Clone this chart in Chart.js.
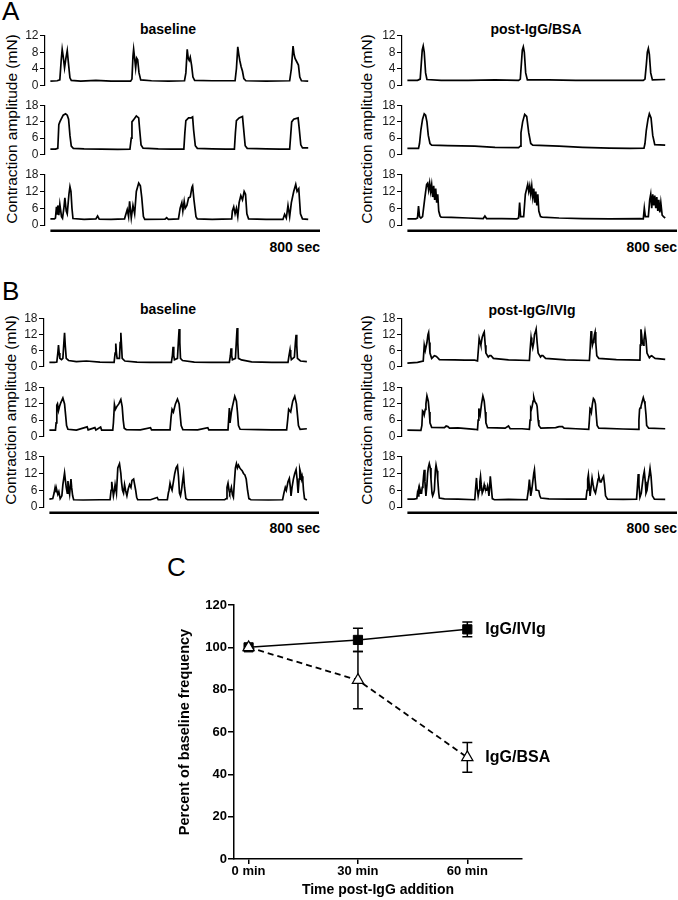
<!DOCTYPE html>
<html>
<head>
<meta charset="utf-8">
<script src="https://cdn.jsdelivr.net/npm/chart.js@4.4.0/dist/chart.umd.min.js"></script>
<style>
  html, body { margin: 0; padding: 0; background: #fff; }
  #page { position: relative; width: 678px; height: 900px; overflow: hidden;
          font-family: 'Liberation Sans', Arial, sans-serif; color: #000; }
  #page canvas, #page .txt { position: absolute; }
  .txt { line-height: 1; white-space: nowrap; }
  .letter { font-size: 26px; }
  .ttl { font-size: 14px; font-weight: bold; transform: translateX(-50%); }
  .sec { font-size: 14px; font-weight: bold; transform: translateX(-100%); }
  .ylab { font-size: 15.5px; transform: translate(-50%, -50%) rotate(-90deg); }
</style>
</head>
<body>
<div id="page">
  <div class="txt letter" style="left:2px; top:-2px;">A</div>
  <div class="txt letter" style="left:2px; top:278px;">B</div>
  <div class="txt letter" style="left:167px; top:554px;">C</div>

  <div class="txt ttl" style="left:168px; top:22px;">baseline</div>
  <div class="txt ttl" style="left:536px; top:22px;">post-IgG/BSA</div>
  <div class="txt ttl" style="left:168px; top:302px;">baseline</div>
  <div class="txt ttl" style="left:532px; top:303px;">post-IgG/IVIg</div>

  <div class="txt sec" style="left:320px; top:240px;">800 sec</div>
  <div class="txt sec" style="left:677px; top:240px;">800 sec</div>
  <div class="txt sec" style="left:320px; top:521px;">800 sec</div>
  <div class="txt sec" style="left:677px; top:521px;">800 sec</div>

  <div class="txt ylab" style="left:12px; top:129px;">Contraction amplitude (mN)</div>
  <div class="txt ylab" style="left:367px; top:129px;">Contraction amplitude (mN)</div>
  <div class="txt ylab" style="left:11px; top:410px;">Contraction amplitude (mN)</div>
  <div class="txt ylab" style="left:367px; top:410px;">Contraction amplitude (mN)</div>
</div>

<script>
// ---- trace data: [time (sec), force (mN)] ----
const aBase1 = [[0,1.0],[20,1.1],[28,1.3],[32,6],[35,8.7],[38,7],[42,4.2],[46,6.5],[50,8.4],[54,5],[58,1.8],[62,1.2],[90,1.0],[135,1.2],[180,1.0],[238,1.0],[242,1.5],[245,7],[247,8.7],[250,6.5],[253,4.2],[256,6.6],[259,6.2],[263,3],[268,1.3],[300,1.1],[350,1.0],[398,1.1],[402,3],[406,8.7],[409,6.5],[412,6],[415,6.8],[419,4.8],[423,2],[428,1.2],[480,1.1],[548,1.1],[552,4],[556,9.3],[559,7.5],[562,6],[566,4.5],[570,3.4],[574,1.6],[580,1.1],[640,1.0],[710,1.1],[715,4],[720,9.5],[723,7.5],[726,6.5],[731,5.7],[736,4.9],[740,2],[745,1.1],[765,1.0]];
const aBase2 = [[0,1.9],[15,1.9],[22,2.2],[25,11],[28,12],[32,13],[38,14.5],[45,15],[50,14.5],[54,13],[58,7],[62,3],[68,2.2],[100,2],[150,1.9],[200,1.8],[236,1.9],[240,6],[242,12],[248,13],[255,14.2],[262,13.5],[265,9],[269,3.5],[275,2.3],[320,2],[360,1.9],[396,1.9],[399,8],[402,12.5],[410,13.5],[418,13.5],[422,13.8],[425,9],[430,3.2],[436,2.2],[480,2],[520,1.9],[546,1.9],[549,8],[552,12.5],[560,13.5],[570,14],[573,10],[578,3.2],[584,2.2],[640,2],[680,1.9],[710,1.9],[713,7],[716,12],[722,13],[735,13.5],[738,10],[743,3.5],[748,2.4],[765,2.4]];
const aBase3 = [[0,2.2],[12,2.2],[15,2.5],[18,6.5],[20,4],[22,7],[25,3.5],[28,7.4],[33,3],[36,2.4],[40,6],[43,9.7],[47,5],[50,4],[55,11],[58,13.7],[61,12],[64,6],[67,2.3],[100,2],[135,2.2],[140,3.2],[145,2.1],[180,2],[220,2.2],[228,5.5],[232,3],[235,8.5],[240,2.5],[245,7],[250,4],[255,12],[262,15],[267,14],[271,10],[276,3],[280,2],[340,2.1],[345,2.6],[350,2],[380,2.2],[385,6],[390,8],[393,5],[397,8.5],[400,6],[405,7],[410,9.7],[415,10],[420,13.5],[422,14],[426,9],[432,3],[436,2.2],[480,2],[538,2.2],[540,5],[544,6.5],[548,4],[552,6],[556,3],[560,8],[565,10.5],[570,9],[575,12],[579,11],[583,4],[588,2.2],[640,2],[690,2],[695,3.8],[700,2.5],[705,7],[710,3],[715,8],[722,12],[728,14.5],[732,12],[737,13],[742,4],[748,2.2],[765,2]];

const aBsa1 = [[0,1.2],[30,1.2],[38,1.5],[41,5],[44,8.5],[47,9.5],[50,8],[54,3],[58,1.4],[100,1.2],[180,1.2],[260,1.3],[330,1.2],[335,1.5],[338,5],[341,8.5],[344,9.3],[347,8],[351,3],[356,1.3],[420,1.3],[500,1.2],[600,1.2],[700,1.2],[705,1.5],[709,5],[712,8],[715,8.9],[718,7.5],[722,3],[727,1.3],[765,1.4]];
const aBsa2 = [[0,2.2],[33,2.2],[36,4],[40,9],[45,13],[50,15],[54,14.5],[58,12],[62,7],[67,4],[72,3.4],[120,3.2],[200,3],[260,2.6],[330,2.5],[335,3],[337,8],[342,12],[348,14.8],[354,14],[360,8],[366,4],[372,3.4],[450,3],[520,2.6],[600,2.3],[660,2.2],[702,2.3],[705,4],[709,9],[714,13],[718,15],[723,13.5],[728,7],[734,3.6],[765,3.4]];
const aBsa3 = [[0,2.2],[25,2.2],[30,2.5],[33,6.8],[36,3],[40,2.5],[45,3],[52,10],[57,14.5],[60,15],[63,12.5],[66,15],[69,12],[72,14.5],[75,10],[78,14],[81,9],[84,13],[87,8],[90,11],[93,5],[97,3.2],[100,2.8],[130,2.7],[180,2.5],[225,2.3],[230,3.2],[235,2.3],[280,2.3],[325,2.2],[330,2.5],[333,8],[336,3],[345,3],[350,11],[354,13],[357,14.5],[360,12],[363,14],[366,11],[369,14],[372,10],[375,13],[378,8],[381,12],[384,7],[387,11],[390,5],[395,3],[400,2.8],[450,2.5],[520,2.3],[600,2.2],[690,2.3],[700,2.2],[703,6],[706,3],[715,3],[719,9],[722,11],[725,6],[728,11],[731,7],[734,10.5],[737,6],[740,10],[743,5],[746,9],[749,4.5],[752,8],[756,3.5],[760,3],[765,2.5]];

const bBase1 = [[0,1.5],[15,1.5],[22,1.6],[25,5],[27,8],[29,5],[31,3],[36,2.5],[40,3],[43,9],[45,12.7],[47,8],[50,3],[57,2.2],[80,1.8],[110,2],[150,1.6],[192,1.5],[195,5],[197,8.6],[199,5],[201,3],[208,3],[210,9],[212,12.7],[214,8],[216,3],[224,2],[260,1.6],[300,1.5],[362,1.5],[365,4],[367,7.4],[369,4],[371,2.5],[380,3],[383,10],[385,14.1],[387,9],[389,3],[395,2.2],[430,1.6],[480,1.5],[534,1.5],[537,4],[539,6.8],[541,4],[543,2.5],[552,3],[555,10],[557,14.5],[559,9],[561,3],[570,2.4],[600,1.7],[660,1.5],[708,1.5],[711,4],[714,6.2],[716,4],[718,2.5],[727,3.5],[730,9],[732,11.9],[734,8],[736,3],[745,2],[764,1.8]];
const bBase2 = [[0,2.3],[18,2.3],[20,5],[22,11.5],[24,12],[27,9.5],[30,11],[34,12.5],[40,14.2],[45,12],[48,8],[51,4],[55,2.6],[80,2.3],[112,3.5],[115,2.4],[135,3.2],[138,2.3],[152,3.4],[155,2.3],[188,2.3],[190,5],[193,11.8],[196,10],[200,11],[206,12],[212,13.6],[216,11],[219,6],[222,3],[228,2.5],[270,2.4],[300,3.2],[303,2.4],[358,2.4],[361,7],[364,10],[368,9],[374,12],[380,13.8],[385,12],[388,8],[391,4],[396,2.5],[440,2.4],[470,3.2],[473,2.4],[530,2.4],[534,10.5],[536,5],[540,9],[543,11],[550,14.8],[555,13],[558,9],[561,4],[566,2.6],[620,2.5],[660,2.4],[704,2.4],[707,6],[710,10],[716,9],[722,13],[728,14.8],[733,12],[736,8],[739,4],[744,2.6],[764,2.8]];
const bBase3 = [[0,2.8],[10,3],[14,5],[17,7],[20,5.5],[22,6],[25,4.5],[28,5.5],[32,3],[37,4],[40,8],[45,12.2],[48,9],[50,7],[53,5],[55,9.3],[58,6],[60,4.5],[64,10],[66,7],[69,4],[72,2.6],[100,2.5],[150,2.6],[180,2.6],[183,6],[185,9],[188,6],[190,4],[193,6],[195,8],[199,5],[203,14],[208,15.5],[212,12],[214,9],[217,6],[220,5],[223,8],[226,6],[230,4],[234,6.5],[238,8],[242,7],[245,9.5],[250,10],[253,8],[256,6],[259,3.5],[262,2.6],[300,2.6],[320,3.4],[323,2.6],[350,2.6],[353,5],[355,6],[358,8.5],[361,7],[364,6],[368,9],[372,12],[376,14],[380,14.8],[383,11],[386,5],[389,4],[392,6],[395,9],[398,11.8],[401,7],[405,3],[410,2.6],[460,2.6],[520,2.6],[525,3],[527,7],[530,8.5],[533,6],[535,5],[538,6],[540,7],[543,4.5],[546,3.5],[549,9],[552,14],[555,15.5],[558,14],[561,15],[565,14],[568,13.5],[572,13],[576,12],[580,11.5],[584,10],[588,6],[592,3],[598,2.6],[650,2.5],[692,2.6],[696,5],[700,7],[703,6],[705,6],[708,9],[712,10.2],[715,7],[717,4],[720,7],[724,10],[728,12],[732,13.4],[735,10],[738,5],[741,10],[743,13.5],[746,12],[748,10],[750,11],[752,9.5],[754,6],[757,3],[764,2.5]];

const bIvig1 = [[0,1.2],[30,1.5],[47,2],[50,8],[53,6],[55,6],[58,9],[61,12],[63,12.8],[65,9],[67,5],[72,3],[76,3.5],[80,4],[85,3.8],[88,3.5],[95,2.5],[140,2.4],[170,2.3],[200,2.3],[208,2],[211,7],[213,10.5],[216,9],[218,8],[222,11],[226,12.5],[228,13],[231,8],[233,5],[240,3.5],[244,4],[248,4],[252,3.5],[255,3],[300,2.4],[362,2.2],[364,6],[367,10.9],[369,9],[372,7],[375,9],[377,12],[380,13],[382,14],[385,9],[388,5],[395,3.5],[398,4],[402,4],[410,3],[470,2.4],[540,2.2],[542,6],[545,13.3],[547,11],[549,8],[551,9],[553,10],[555,12],[557,13],[559,9],[562,4],[568,3],[620,2.5],[690,2.3],[691,8],[693,14],[695,12],[697,9],[700,8],[702,10],[705,13],[708,10],[711,5],[718,3.2],[722,3.8],[725,4],[730,3.5],[735,3],[765,2.6]];
const bIvig2 = [[0,2.3],[40,2.2],[43,4],[45,9.4],[48,9],[50,8],[53,10],[55,12],[58,15],[60,14],[62,13],[65,9],[67,5],[72,3.3],[110,3.2],[115,3.8],[120,3.6],[125,3],[150,3.1],[200,2.6],[208,2.4],[210,6],[212,10.3],[214,9],[216,8],[220,12],[224,14.9],[228,13],[231,9],[233,5],[238,3.2],[290,3],[300,3.8],[305,2.8],[340,2.8],[362,2.6],[364,6],[366,10.5],[368,10],[370,11],[373,13],[375,14.5],[378,13],[380,12.5],[383,12],[385,11],[388,6],[390,4],[396,3],[440,3.2],[450,3.6],[460,3.6],[465,3],[500,2.8],[538,2.6],[540,6],[542,10.3],[544,10],[546,9],[549,12],[552,14],[555,13.5],[558,12],[561,7],[563,4],[568,3],[640,2.7],[685,2.6],[687,6],[689,10],[691,10.5],[693,11],[697,13],[700,14.3],[703,13],[705,12],[708,8],[710,4],[716,3],[765,2.8]];
const bIvig3 = [[0,2.8],[20,2.8],[28,3],[30,5],[32,4],[34,6],[36,5],[37,6.5],[40,5],[42,5],[44,7],[46,8],[48,11],[50,13.3],[52,9],[55,4],[58,8],[60,12],[62,14],[65,15.5],[68,14],[70,10],[73,5],[75,4],[78,5],[80,6],[83,13],[85,15],[88,13],[90,10],[93,5],[95,3.2],[110,2.9],[150,2.8],[200,2.6],[202,6],[205,10.4],[207,7],[210,4],[213,6],[215,9],[217,10.9],[219,8],[222,5],[225,6],[228,8],[230,7],[232,6],[235,6],[238,7.5],[240,6],[242,4],[244,7],[246,11],[249,7],[252,3],[258,2.6],[300,2.7],[355,2.6],[359,6],[362,9.8],[364,7],[366,4],[369,6],[372,9],[375,12],[377,13.3],[379,10],[382,6],[386,6],[390,5.8],[393,4],[396,3.2],[420,2.9],[480,2.8],[530,2.8],[533,6],[535,10],[537,11.5],[540,7],[542,4],[545,7],[548,10.3],[551,8],[554,6],[558,5],[563,8],[566,10],[568,11],[572,9],[575,9],[578,10],[582,11],[585,8],[588,4],[594,2.8],[640,2.7],[680,2.8],[683,8],[685,11.8],[687,8],[690,3.5],[694,5],[697,8],[700,11],[703,12.8],[706,9],[708,5],[711,6],[714,9],[717,11],[720,13.8],[723,11],[727,4],[733,2.8],[765,2.7]];

// y tick sets of the trace panels
const ticks12 = [0, 4, 8, 12];
const ticks18 = [0, 6, 12, 18];

// scale bar: 800 sec, drawn just under the bottom trace of each block
const scaleBarSec = [0, 800];
const scaleBarY = -2.1;

// ---- panel C: frequency as % of baseline ----
const cTimes = [0, 30, 60];
const ivigMean = [100, 103.5, 108.5];
const ivigSem = [0, 5.5, 3.5];
const bsaMean = [100, 84.5, 48];
const bsaSem = [0, 13.5, 7];
const cYTicks = [0, 20, 40, 60, 80, 100, 120];

Chart.defaults.font.family = "'Liberation Sans', Arial, sans-serif";
Chart.defaults.color = '#000';

const page = document.getElementById('page');

function addCanvas(left, top, w, h) {
    const c = document.createElement('canvas');
    c.width = w;
    c.height = h;
    c.style.left = left + 'px';
    c.style.top = top + 'px';
    page.appendChild(c);
    return c;
}

const toXY = arr => arr.map(p => ({ x: p[0], y: p[1] }));

function traceChart(pts, axisX, top, bottom, yTicks, withBar) {
    const axisW = 40, plotW = 275;
    const padTop = 7, padBot = withBar ? 12 : 7;
    const canvas = addCanvas(axisX - axisW, top - padTop, axisW + plotW, bottom - top + padTop + padBot);

    const datasets = [{
        data: toXY(pts),
        borderColor: '#000',
        borderWidth: 1.7,
        pointRadius: 0,
        tension: 0
    }];
    if (withBar) {
        datasets.push({
            data: scaleBarSec.map(t => ({ x: t, y: scaleBarY })),
            borderColor: '#000',
            borderWidth: 2.5,
            pointRadius: 0,
            clip: false
        });
    }

    return new Chart(canvas, {
        type: 'line',
        data: { datasets },
        options: {
            responsive: false,
            animation: false,
            devicePixelRatio: 1,
            layout: { padding: { top: padTop, bottom: padBot, left: 0, right: 0 } },
            plugins: { legend: { display: false }, tooltip: { enabled: false } },
            scales: {
                x: { type: 'linear', min: -16, max: 800, display: false },
                y: {
                    min: 0,
                    max: yTicks[yTicks.length - 1],
                    afterBuildTicks: axis => { axis.ticks = yTicks.map(v => ({ value: v })); },
                    ticks: { autoSkip: false, color: '#1a1a1a', font: { size: 12 }, padding: 1.5 },
                    grid: { drawOnChartArea: false, tickLength: 5, color: '#000', lineWidth: 1 },
                    border: { color: '#000', width: 1.2 },
                    afterFit: s => { s.width = axisW; }
                }
            }
        }
    });
}

// panel A
traceChart(aBase1, 45, 34, 87, ticks12, false);
traceChart(aBase2, 45, 104, 156, ticks18, false);
traceChart(aBase3, 45, 173, 225, ticks18, true);
traceChart(aBsa1, 402, 34, 87, ticks12, false);
traceChart(aBsa2, 402, 104, 156, ticks18, false);
traceChart(aBsa3, 402, 173, 225, ticks18, true);

// panel B
traceChart(bBase1, 44, 317, 368, ticks18, false);
traceChart(bBase2, 44, 386, 438, ticks18, false);
traceChart(bBase3, 44, 455, 507, ticks18, true);
traceChart(bIvig1, 402, 317, 368, ticks18, false);
traceChart(bIvig2, 402, 386, 438, ticks18, false);
traceChart(bIvig3, 402, 455, 507, ticks18, true);

// error bars under the markers, labels at the line ends
const errorBars = {
    id: 'errorBars',
    beforeDatasetsDraw(chart) {
        const { ctx, scales: { x, y } } = chart;
        ctx.save();
        ctx.strokeStyle = '#000';
        ctx.lineWidth = 1.5;
        chart.data.datasets.forEach(ds => {
            ds.data.forEach((p, j) => {
                const e = ds.sem[j];
                if (!e) return;
                const px = x.getPixelForValue(p.x);
                const hi = y.getPixelForValue(p.y + e);
                const lo = y.getPixelForValue(p.y - e);
                ctx.beginPath();
                ctx.moveTo(px, hi); ctx.lineTo(px, lo);
                ctx.moveTo(px - 5, hi); ctx.lineTo(px + 5, hi);
                ctx.moveTo(px - 5, lo); ctx.lineTo(px + 5, lo);
                ctx.stroke();
            });
        });
        ctx.restore();
    }
};

const endLabels = {
    id: 'endLabels',
    afterDatasetsDraw(chart) {
        const { ctx, scales: { x, y } } = chart;
        ctx.save();
        ctx.font = "bold 16px 'Liberation Sans', Arial, sans-serif";
        ctx.fillStyle = '#000';
        ctx.textAlign = 'left';
        ctx.textBaseline = 'middle';
        chart.data.datasets.forEach(ds => {
            const last = ds.data[ds.data.length - 1];
            ctx.fillText(ds.label, x.getPixelForValue(last.x) + 18, y.getPixelForValue(last.y));
        });
        ctx.restore();
    }
};

const cCanvas = addCanvas(160, 595, 410, 305);
new Chart(cCanvas, {
    type: 'line',
    data: {
        datasets: [
            {
                label: 'IgG/BSA',
                data: cTimes.map((t, i) => ({ x: t, y: bsaMean[i] })),
                sem: bsaSem,
                order: 0,
                borderColor: '#000',
                borderWidth: 1.8,
                borderDash: [6, 4],
                pointStyle: 'triangle',
                pointRadius: 6.5,
                pointBackgroundColor: '#fff',
                pointBorderColor: '#000',
                pointBorderWidth: 1.2
            },
            {
                label: 'IgG/IVIg',
                data: cTimes.map((t, i) => ({ x: t, y: ivigMean[i] })),
                sem: ivigSem,
                order: 1,
                borderColor: '#000',
                borderWidth: 1.5,
                pointStyle: 'rect',
                pointRadius: 6.5,
                pointBackgroundColor: '#000',
                pointBorderColor: '#000',
                pointBorderWidth: 1
            }
        ]
    },
    options: {
        responsive: false,
        animation: false,
        devicePixelRatio: 1,
        layout: { padding: { top: 10, right: 48, left: 0, bottom: 0 } },
        plugins: { legend: { display: false }, tooltip: { enabled: false } },
        scales: {
            x: {
                type: 'linear',
                min: -4,
                max: 75,
                afterBuildTicks: axis => { axis.ticks = cTimes.map(v => ({ value: v })); },
                ticks: { callback: v => v + ' min', font: { size: 13, weight: 'bold' }, padding: 0, maxRotation: 0 },
                grid: { drawOnChartArea: false, tickLength: 5, color: '#000', lineWidth: 1.5 },
                border: { color: '#000', width: 1.5 },
                title: { display: true, text: 'Time post-IgG addition', font: { size: 14, weight: 'bold' }, padding: { top: 0, bottom: 1.6 } },
                afterFit: s => { s.height = 41; }
            },
            y: {
                min: 0,
                max: 120,
                afterBuildTicks: axis => { axis.ticks = cYTicks.map(v => ({ value: v })); },
                ticks: { font: { size: 13, weight: 'bold' }, padding: 1 },
                grid: { drawOnChartArea: false, tickLength: 6, color: '#000', lineWidth: 1.5 },
                border: { color: '#000', width: 1.5 },
                title: { display: true, text: 'Percent of baseline frequency', font: { size: 14.5, weight: 'bold' }, padding: { top: 16.3, bottom: 0 } },
                afterFit: s => { s.width = 74; }
            }
        }
    },
    plugins: [errorBars, endLabels]
});
</script>
</body>
</html>
